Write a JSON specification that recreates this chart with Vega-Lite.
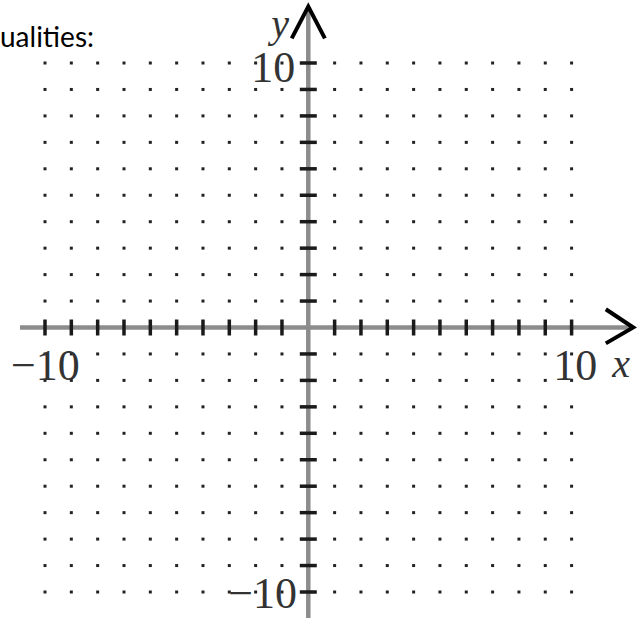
{
  "$schema": "https://vega.github.io/schema/vega-lite/v6.json",
  "width": 643,
  "height": 618,
  "padding": 0,
  "autosize": {"type": "none"},
  "background": "#ffffff",
  "config": {"view": {"stroke": null}},
  "datasets": {
    "dots": [
      {"x":-10,"y":10},{"x":-9,"y":10},{"x":-8,"y":10},{"x":-7,"y":10},{"x":-6,"y":10},{"x":-5,"y":10},{"x":-4,"y":10},{"x":-3,"y":10},{"x":-2,"y":10},{"x":-1,"y":10},{"x":1,"y":10},{"x":2,"y":10},{"x":3,"y":10},{"x":4,"y":10},{"x":5,"y":10},{"x":6,"y":10},{"x":7,"y":10},{"x":8,"y":10},{"x":9,"y":10},{"x":10,"y":10},
      {"x":-10,"y":9},{"x":-9,"y":9},{"x":-8,"y":9},{"x":-7,"y":9},{"x":-6,"y":9},{"x":-5,"y":9},{"x":-4,"y":9},{"x":-3,"y":9},{"x":-2,"y":9},{"x":-1,"y":9},{"x":1,"y":9},{"x":2,"y":9},{"x":3,"y":9},{"x":4,"y":9},{"x":5,"y":9},{"x":6,"y":9},{"x":7,"y":9},{"x":8,"y":9},{"x":9,"y":9},{"x":10,"y":9},
      {"x":-10,"y":8},{"x":-9,"y":8},{"x":-8,"y":8},{"x":-7,"y":8},{"x":-6,"y":8},{"x":-5,"y":8},{"x":-4,"y":8},{"x":-3,"y":8},{"x":-2,"y":8},{"x":-1,"y":8},{"x":1,"y":8},{"x":2,"y":8},{"x":3,"y":8},{"x":4,"y":8},{"x":5,"y":8},{"x":6,"y":8},{"x":7,"y":8},{"x":8,"y":8},{"x":9,"y":8},{"x":10,"y":8},
      {"x":-10,"y":7},{"x":-9,"y":7},{"x":-8,"y":7},{"x":-7,"y":7},{"x":-6,"y":7},{"x":-5,"y":7},{"x":-4,"y":7},{"x":-3,"y":7},{"x":-2,"y":7},{"x":-1,"y":7},{"x":1,"y":7},{"x":2,"y":7},{"x":3,"y":7},{"x":4,"y":7},{"x":5,"y":7},{"x":6,"y":7},{"x":7,"y":7},{"x":8,"y":7},{"x":9,"y":7},{"x":10,"y":7},
      {"x":-10,"y":6},{"x":-9,"y":6},{"x":-8,"y":6},{"x":-7,"y":6},{"x":-6,"y":6},{"x":-5,"y":6},{"x":-4,"y":6},{"x":-3,"y":6},{"x":-2,"y":6},{"x":-1,"y":6},{"x":1,"y":6},{"x":2,"y":6},{"x":3,"y":6},{"x":4,"y":6},{"x":5,"y":6},{"x":6,"y":6},{"x":7,"y":6},{"x":8,"y":6},{"x":9,"y":6},{"x":10,"y":6},
      {"x":-10,"y":5},{"x":-9,"y":5},{"x":-8,"y":5},{"x":-7,"y":5},{"x":-6,"y":5},{"x":-5,"y":5},{"x":-4,"y":5},{"x":-3,"y":5},{"x":-2,"y":5},{"x":-1,"y":5},{"x":1,"y":5},{"x":2,"y":5},{"x":3,"y":5},{"x":4,"y":5},{"x":5,"y":5},{"x":6,"y":5},{"x":7,"y":5},{"x":8,"y":5},{"x":9,"y":5},{"x":10,"y":5},
      {"x":-10,"y":4},{"x":-9,"y":4},{"x":-8,"y":4},{"x":-7,"y":4},{"x":-6,"y":4},{"x":-5,"y":4},{"x":-4,"y":4},{"x":-3,"y":4},{"x":-2,"y":4},{"x":-1,"y":4},{"x":1,"y":4},{"x":2,"y":4},{"x":3,"y":4},{"x":4,"y":4},{"x":5,"y":4},{"x":6,"y":4},{"x":7,"y":4},{"x":8,"y":4},{"x":9,"y":4},{"x":10,"y":4},
      {"x":-10,"y":3},{"x":-9,"y":3},{"x":-8,"y":3},{"x":-7,"y":3},{"x":-6,"y":3},{"x":-5,"y":3},{"x":-4,"y":3},{"x":-3,"y":3},{"x":-2,"y":3},{"x":-1,"y":3},{"x":1,"y":3},{"x":2,"y":3},{"x":3,"y":3},{"x":4,"y":3},{"x":5,"y":3},{"x":6,"y":3},{"x":7,"y":3},{"x":8,"y":3},{"x":9,"y":3},{"x":10,"y":3},
      {"x":-10,"y":2},{"x":-9,"y":2},{"x":-8,"y":2},{"x":-7,"y":2},{"x":-6,"y":2},{"x":-5,"y":2},{"x":-4,"y":2},{"x":-3,"y":2},{"x":-2,"y":2},{"x":-1,"y":2},{"x":1,"y":2},{"x":2,"y":2},{"x":3,"y":2},{"x":4,"y":2},{"x":5,"y":2},{"x":6,"y":2},{"x":7,"y":2},{"x":8,"y":2},{"x":9,"y":2},{"x":10,"y":2},
      {"x":-10,"y":1},{"x":-9,"y":1},{"x":-8,"y":1},{"x":-7,"y":1},{"x":-6,"y":1},{"x":-5,"y":1},{"x":-4,"y":1},{"x":-3,"y":1},{"x":-2,"y":1},{"x":-1,"y":1},{"x":1,"y":1},{"x":2,"y":1},{"x":3,"y":1},{"x":4,"y":1},{"x":5,"y":1},{"x":6,"y":1},{"x":7,"y":1},{"x":8,"y":1},{"x":9,"y":1},{"x":10,"y":1},
      {"x":-10,"y":-1},{"x":-9,"y":-1},{"x":-8,"y":-1},{"x":-7,"y":-1},{"x":-6,"y":-1},{"x":-5,"y":-1},{"x":-4,"y":-1},{"x":-3,"y":-1},{"x":-2,"y":-1},{"x":-1,"y":-1},{"x":1,"y":-1},{"x":2,"y":-1},{"x":3,"y":-1},{"x":4,"y":-1},{"x":5,"y":-1},{"x":6,"y":-1},{"x":7,"y":-1},{"x":8,"y":-1},{"x":9,"y":-1},{"x":10,"y":-1},
      {"x":-10,"y":-2},{"x":-9,"y":-2},{"x":-8,"y":-2},{"x":-7,"y":-2},{"x":-6,"y":-2},{"x":-5,"y":-2},{"x":-4,"y":-2},{"x":-3,"y":-2},{"x":-2,"y":-2},{"x":-1,"y":-2},{"x":1,"y":-2},{"x":2,"y":-2},{"x":3,"y":-2},{"x":4,"y":-2},{"x":5,"y":-2},{"x":6,"y":-2},{"x":7,"y":-2},{"x":8,"y":-2},{"x":9,"y":-2},{"x":10,"y":-2},
      {"x":-10,"y":-3},{"x":-9,"y":-3},{"x":-8,"y":-3},{"x":-7,"y":-3},{"x":-6,"y":-3},{"x":-5,"y":-3},{"x":-4,"y":-3},{"x":-3,"y":-3},{"x":-2,"y":-3},{"x":-1,"y":-3},{"x":1,"y":-3},{"x":2,"y":-3},{"x":3,"y":-3},{"x":4,"y":-3},{"x":5,"y":-3},{"x":6,"y":-3},{"x":7,"y":-3},{"x":8,"y":-3},{"x":9,"y":-3},{"x":10,"y":-3},
      {"x":-10,"y":-4},{"x":-9,"y":-4},{"x":-8,"y":-4},{"x":-7,"y":-4},{"x":-6,"y":-4},{"x":-5,"y":-4},{"x":-4,"y":-4},{"x":-3,"y":-4},{"x":-2,"y":-4},{"x":-1,"y":-4},{"x":1,"y":-4},{"x":2,"y":-4},{"x":3,"y":-4},{"x":4,"y":-4},{"x":5,"y":-4},{"x":6,"y":-4},{"x":7,"y":-4},{"x":8,"y":-4},{"x":9,"y":-4},{"x":10,"y":-4},
      {"x":-10,"y":-5},{"x":-9,"y":-5},{"x":-8,"y":-5},{"x":-7,"y":-5},{"x":-6,"y":-5},{"x":-5,"y":-5},{"x":-4,"y":-5},{"x":-3,"y":-5},{"x":-2,"y":-5},{"x":-1,"y":-5},{"x":1,"y":-5},{"x":2,"y":-5},{"x":3,"y":-5},{"x":4,"y":-5},{"x":5,"y":-5},{"x":6,"y":-5},{"x":7,"y":-5},{"x":8,"y":-5},{"x":9,"y":-5},{"x":10,"y":-5},
      {"x":-10,"y":-6},{"x":-9,"y":-6},{"x":-8,"y":-6},{"x":-7,"y":-6},{"x":-6,"y":-6},{"x":-5,"y":-6},{"x":-4,"y":-6},{"x":-3,"y":-6},{"x":-2,"y":-6},{"x":-1,"y":-6},{"x":1,"y":-6},{"x":2,"y":-6},{"x":3,"y":-6},{"x":4,"y":-6},{"x":5,"y":-6},{"x":6,"y":-6},{"x":7,"y":-6},{"x":8,"y":-6},{"x":9,"y":-6},{"x":10,"y":-6},
      {"x":-10,"y":-7},{"x":-9,"y":-7},{"x":-8,"y":-7},{"x":-7,"y":-7},{"x":-6,"y":-7},{"x":-5,"y":-7},{"x":-4,"y":-7},{"x":-3,"y":-7},{"x":-2,"y":-7},{"x":-1,"y":-7},{"x":1,"y":-7},{"x":2,"y":-7},{"x":3,"y":-7},{"x":4,"y":-7},{"x":5,"y":-7},{"x":6,"y":-7},{"x":7,"y":-7},{"x":8,"y":-7},{"x":9,"y":-7},{"x":10,"y":-7},
      {"x":-10,"y":-8},{"x":-9,"y":-8},{"x":-8,"y":-8},{"x":-7,"y":-8},{"x":-6,"y":-8},{"x":-5,"y":-8},{"x":-4,"y":-8},{"x":-3,"y":-8},{"x":-2,"y":-8},{"x":-1,"y":-8},{"x":1,"y":-8},{"x":2,"y":-8},{"x":3,"y":-8},{"x":4,"y":-8},{"x":5,"y":-8},{"x":6,"y":-8},{"x":7,"y":-8},{"x":8,"y":-8},{"x":9,"y":-8},{"x":10,"y":-8},
      {"x":-10,"y":-9},{"x":-9,"y":-9},{"x":-8,"y":-9},{"x":-7,"y":-9},{"x":-6,"y":-9},{"x":-5,"y":-9},{"x":-4,"y":-9},{"x":-3,"y":-9},{"x":-2,"y":-9},{"x":-1,"y":-9},{"x":1,"y":-9},{"x":2,"y":-9},{"x":3,"y":-9},{"x":4,"y":-9},{"x":5,"y":-9},{"x":6,"y":-9},{"x":7,"y":-9},{"x":8,"y":-9},{"x":9,"y":-9},{"x":10,"y":-9},
      {"x":-10,"y":-10},{"x":-9,"y":-10},{"x":-8,"y":-10},{"x":-7,"y":-10},{"x":-6,"y":-10},{"x":-5,"y":-10},{"x":-4,"y":-10},{"x":-3,"y":-10},{"x":-2,"y":-10},{"x":-1,"y":-10},{"x":1,"y":-10},{"x":2,"y":-10},{"x":3,"y":-10},{"x":4,"y":-10},{"x":5,"y":-10},{"x":6,"y":-10},{"x":7,"y":-10},{"x":8,"y":-10},{"x":9,"y":-10},{"x":10,"y":-10}
    ],
    "xticks": [
      {"x":-10,"y":0},{"x":-9,"y":0},{"x":-8,"y":0},{"x":-7,"y":0},{"x":-6,"y":0},{"x":-5,"y":0},{"x":-4,"y":0},{"x":-3,"y":0},{"x":-2,"y":0},{"x":-1,"y":0},
      {"x":1,"y":0},{"x":2,"y":0},{"x":3,"y":0},{"x":4,"y":0},{"x":5,"y":0},{"x":6,"y":0},{"x":7,"y":0},{"x":8,"y":0},{"x":9,"y":0},{"x":10,"y":0}
    ],
    "yticks": [
      {"x":0,"y":-10},{"x":0,"y":-9},{"x":0,"y":-8},{"x":0,"y":-7},{"x":0,"y":-6},{"x":0,"y":-5},{"x":0,"y":-4},{"x":0,"y":-3},{"x":0,"y":-2},{"x":0,"y":-1},
      {"x":0,"y":1},{"x":0,"y":2},{"x":0,"y":3},{"x":0,"y":4},{"x":0,"y":5},{"x":0,"y":6},{"x":0,"y":7},{"x":0,"y":8},{"x":0,"y":9},{"x":0,"y":10}
    ],
    "axes": [
      {"axis":"x","x":-10.95,"y":0,"x2":12.2,"y2":0},
      {"axis":"y","x":0,"y":12.1,"x2":0,"y2":-10.98}
    ],
    "arrows": [
      {"axis":"x","step":0,"x":11.3,"y":0.69},
      {"axis":"x","step":1,"x":12.34,"y":0},
      {"axis":"x","step":2,"x":11.3,"y":-0.6},
      {"axis":"y","step":0,"x":-0.63,"y":10.93},
      {"axis":"y","step":1,"x":0,"y":12.13},
      {"axis":"y","step":2,"x":0.63,"y":10.93}
    ],
    "labelsRight": [
      {"x":-8.68,"y":-1.99,"text":"−10"},
      {"x":-0.5,"y":9.28,"text":"10"},
      {"x":-0.43,"y":-10.6,"text":"−10"}
    ],
    "labelsLeft": [
      {"x":9.3,"y":-1.99,"text":"10"}
    ],
    "axisNames": [
      {"x":-1.07,"y":10.99,"text":"y"},
      {"x":11.88,"y":-1.87,"text":"x"}
    ],
    "heading": [
      {"x":-11.709,"y":10.6,"text":"ualities:"}
    ]
  },
  "encoding": {
    "x": {"field": "x", "type": "quantitative", "axis": null, "scale": {"domain": [-11.709, 12.712], "nice": false, "zero": false}},
    "y": {"field": "y", "type": "quantitative", "axis": null, "scale": {"domain": [-10.983, 12.382], "nice": false, "zero": false}}
  },
  "layer": [
    {
      "data": {"name": "dots"},
      "mark": {"type": "square", "size": 9, "color": "#222222", "opacity": 1}
    },
    {
      "data": {"name": "axes"},
      "mark": {"type": "rule", "color": "#8c8c8c", "strokeWidth": 4.5},
      "encoding": {"x2": {"field": "x2"}, "y2": {"field": "y2"}}
    },
    {
      "data": {"name": "xticks"},
      "mark": {"type": "tick", "orient": "vertical", "size": 16, "thickness": 3.5, "color": "#1a1a1a", "opacity": 1}
    },
    {
      "data": {"name": "yticks"},
      "mark": {"type": "tick", "orient": "horizontal", "size": 17, "thickness": 3.5, "color": "#1a1a1a", "opacity": 1}
    },
    {
      "data": {"name": "arrows"},
      "mark": {"type": "line", "color": "#000000", "strokeWidth": 4, "strokeJoin": "miter", "strokeCap": "butt"},
      "encoding": {"detail": {"field": "axis"}, "order": {"field": "step", "type": "quantitative"}}
    },
    {
      "data": {"name": "labelsRight"},
      "mark": {"type": "text", "align": "right", "baseline": "alphabetic", "font": "Liberation Serif", "fontSize": 44, "color": "#333333"},
      "encoding": {"text": {"field": "text"}}
    },
    {
      "data": {"name": "labelsLeft"},
      "mark": {"type": "text", "align": "left", "baseline": "alphabetic", "font": "Liberation Serif", "fontSize": 44, "color": "#333333"},
      "encoding": {"text": {"field": "text"}}
    },
    {
      "data": {"name": "axisNames"},
      "mark": {"type": "text", "align": "center", "baseline": "alphabetic", "font": "Liberation Serif", "fontStyle": "italic", "fontSize": 40, "color": "#333333"},
      "encoding": {"text": {"field": "text"}}
    },
    {
      "data": {"name": "heading"},
      "mark": {"type": "text", "align": "left", "baseline": "alphabetic", "font": "Lato", "fontSize": 28, "color": "#000000"},
      "encoding": {"text": {"field": "text"}}
    }
  ]
}
